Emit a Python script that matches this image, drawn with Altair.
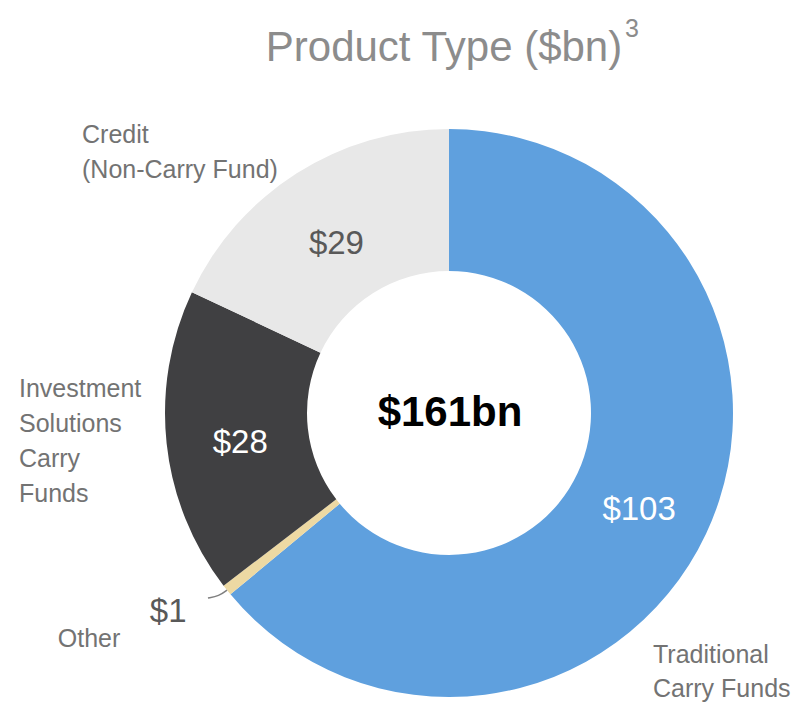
import math
import altair as alt
import pandas as pd

# ---- data ----
categories = ["Traditional Carry Funds", "Other", "Investment Solutions Carry Funds", "Credit (Non-Carry Fund)"]
values = [103, 1, 28, 29]
value_labels = ["$103", "$1", "$28", "$29"]
colors = ["#5FA0DE", "#EDD9A3", "#404042", "#E8E8E8"]
label_colors = ["#FFFFFF", "#595959", "#FFFFFF", "#595959"]
total_label = "$161bn"
title_text = "Product Type ($bn)"
title_sup = "3"

FONT = "Liberation Sans Narrow, Arial Narrow, Liberation Sans, sans-serif"
W, H = 785, 698
CX, CY = 441, 405
R_OUT, R_IN = 284, 142
R_LBL = 210

total = sum(values)
starts, ends = [], []
acc = 0
for v in values:
    starts.append(acc / total * 2 * math.pi)
    acc += v
    ends.append(acc / total * 2 * math.pi)

df = pd.DataFrame({
    "category": categories,
    "value": values,
    "label": value_labels,
    "t0": starts,
    "t1": ends,
    "mid": [(a + b) / 2 for a, b in zip(starts, ends)],
    "lcolor": label_colors,
})

color_scale = alt.Scale(domain=categories, range=colors)

arcs = alt.Chart(df).mark_arc(innerRadius=R_IN, outerRadius=R_OUT).encode(
    theta=alt.Theta("t0:Q", scale=None),
    theta2="t1",
    color=alt.Color("category:N", scale=color_scale, legend=None),
    x=alt.value(CX),
    y=alt.value(CY),
)

inside = alt.Chart(df).transform_filter(alt.datum.value > 5).mark_text(
    font=FONT, fontSize=33, baseline="middle", align="center", dy=8
).encode(
    theta=alt.Theta("mid:Q", scale=None),
    radius=alt.value(R_LBL),
    text="label:N",
    color=alt.Color("lcolor:N", scale=None),
    x=alt.value(CX),
    y=alt.value(CY),
)

small = alt.Chart(df).transform_filter(alt.datum.value <= 5).mark_text(
    font=FONT, fontSize=33, baseline="middle", align="center", dx=-15, dy=-13
).encode(
    theta=alt.Theta("mid:Q", scale=None),
    radius=alt.value(340),
    text="label:N",
    color=alt.Color("lcolor:N", scale=None),
    x=alt.value(CX),
    y=alt.value(CY),
)

# leader line for the small slice
other_mid = df.loc[df["value"] <= 5, "mid"].iloc[0]
sx = CX + R_OUT * math.sin(other_mid)
sy = CY - R_OUT * math.cos(other_mid)
leader_df = pd.DataFrame({
    "x": [sx, sx - 8, sx - 19],
    "y": [sy, sy + 6, sy + 8],
    "o": [0, 1, 2],
})
leader = alt.Chart(leader_df).mark_line(color="#7F7F7F", strokeWidth=1.5, interpolate="basis").encode(
    x=alt.X("x:Q", scale=None, axis=None),
    y=alt.Y("y:Q", scale=None, axis=None),
    order="o:Q",
)

one = alt.Data(values=[{}])

def annot(text, x, y, size, color, align="left", weight="normal", lh=35):
    return alt.Chart(one).mark_text(
        text=text, font=FONT, fontSize=size, color=color, align=align,
        baseline="alphabetic", lineBreak="\n", lineHeight=lh, fontWeight=weight,
    ).encode(x=alt.value(x), y=alt.value(y))

GRAY = "#737373"
cat_labels = [
    annot("Credit\n(Non-Carry Fund)", 74, 135, 25, GRAY),
    annot("Investment\nSolutions\nCarry\nFunds", 11, 389, 25, GRAY),
    annot("Other", 81, 639, 25, GRAY, align="center"),
    annot("Traditional\nCarry Funds", 645, 655, 25, GRAY, lh=34),
]

center = alt.Chart(one).mark_text(
    text=total_label, font=FONT, fontSize=42, fontWeight="bold", color="#000000",
    align="center", baseline="middle",
).encode(x=alt.value(CX + 1), y=alt.value(CY))

title = annot(title_text, 436, 53, 42, "#8C8C8C", align="center")
sup = annot(title_sup, 617, 29, 25, "#8C8C8C", align="left")

chart = alt.layer(arcs, inside, small, leader, center, title, sup, *cat_labels).properties(
    width=W, height=H, padding=0, autosize=alt.AutoSizeParams(type="none")
).configure_view(strokeWidth=0)

chart.save("out.html", embed_options={"renderer": "svg", "actions": False})
